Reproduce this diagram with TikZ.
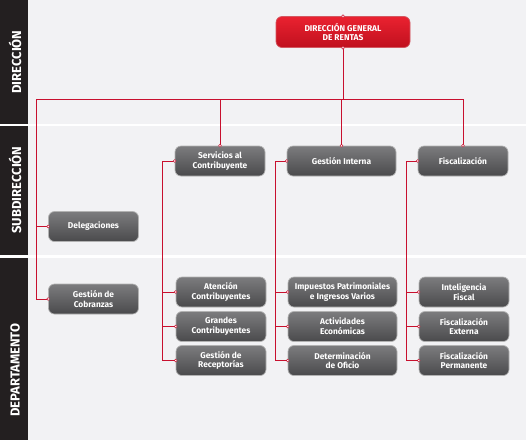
\documentclass[tikz,border=0pt]{standalone}
\usepackage{fontspec}
\setmainfont{Fira Sans}
\newfontfamily\orgfont{Fira Sans}
\definecolor{bandcol}{HTML}{231F20}
\definecolor{bgcol}{HTML}{F2F2F4}
\definecolor{linkred}{HTML}{C8102E}
\definecolor{headtop}{HTML}{EA2230}
\definecolor{headbot}{HTML}{C0101E}
\definecolor{unittop}{HTML}{7C7C7E}
\definecolor{unitbot}{HTML}{4A4A4C}
\begin{document}
\begin{tikzpicture}[x=1pt, y=-1pt,
    unit/.style={draw=black!30, line width=0.7pt, rounded corners=6pt,
        top color=unittop, bottom color=unitbot, text=white,
        font=\orgfont\bfseries\fontsize{8.4}{9.8}\selectfont, align=center,
        minimum width=90pt, minimum height=30pt, inner sep=1pt},
    wide/.style={unit, minimum width=109pt},
    head/.style={unit, draw=headbot!70, top color=headtop, bottom color=headbot,
        minimum width=134pt, minimum height=31pt},
    link/.style={draw=linkred, line width=0.8pt},
    dot/.style={fill=white, draw=linkred, line width=0.4pt},
    bandtext/.style={text=white, rotate=90, font=\orgfont\bfseries\fontsize{13}{15}\selectfont}
]
    % background and level band
    \fill [bgcol] (0,0) rectangle (526,440);
    \fill [bandcol] (0,0) rectangle (28,440);
    \fill [white] (0,123.8) rectangle (526,126.4);
    \fill [white] (0,255.4) rectangle (526,258);
    \node [bandtext] (lvl1) at (15,62) {DIRECCIÓN};
    \node [bandtext] (lvl2) at (15,190) {SUBDIRECCIÓN};
    \node [bandtext] (lvl3) at (15,370) {DEPARTAMENTO};

    % Direccion
    \node [head] (dgr) at (343,32) {DIRECCIÓN GENERAL\\DE RENTAS};

    % Subdirecciones
    \node [unit] (serv) at (220,161) {Servicios al\\Contribuyente};
    \node [wide] (gint) at (341.5,161) {Gestión Interna};
    \node [unit] (fisc) at (463,161) {Fiscalización};
    \node [unit] (deleg) at (93.5,226.5) {Delegaciones};

    % Departamentos
    \node [unit] (cobr) at (93.5,299) {Gestión de\\Cobranzas};
    \node [unit] (aten) at (221,292) {Atención\\Contribuyentes};
    \node [unit] (gran) at (221,326.5) {Grandes\\Contribuyentes};
    \node [unit] (rece) at (221,360.5) {Gestión de\\Receptorías};
    \node [wide] (impu) at (342.5,292) {Impuestos Patrimoniales\\e Ingresos Varios};
    \node [wide] (acti) at (342.5,326.5) {Actividades\\Económicas};
    \node [wide] (dete) at (342.5,360.5) {Determinación\\de Oficio};
    \node [unit] (inte) at (464,292) {Inteligencia\\Fiscal};
    \node [unit] (fext) at (464,326.5) {Fiscalización\\Externa};
    \node [unit] (fper) at (464,360.5) {Fiscalización\\Permanente};

    % Relations
    \coordinate (busL) at (36,99);
    \coordinate (busR) at (463,99);
    \draw [link] (dgr.south) -- (dgr.south |- busL);
    \draw [link] (busL) -- (busR);
    \draw [link] (serv.north) -- (serv.north |- busL);
    \draw [link] (gint.north) -- (gint.north |- busL);
    \draw [link] (busR) -- (fisc.north);
    \draw [link] (busL) |- (deleg.west);
    \draw [link] (busL) |- (cobr.west);
    \draw [link] (serv.west) -- ++(-12,0) coordinate (c1) |- (rece.west);
    \draw [link] (gint.west) -- ++(-11,0) coordinate (c2) |- (dete.west);
    \draw [link] (fisc.west) -- ++(-11,0) coordinate (c3) |- (fper.west);
    \foreach \n in {aten,gran} \draw [link] (c1 |- \n.west) -- (\n.west);
    \foreach \n in {impu,acti} \draw [link] (c2 |- \n.west) -- (\n.west);
    \foreach \n in {inte,fext} \draw [link] (c3 |- \n.west) -- (\n.west);

    % connection dots
    \foreach \n in {deleg,cobr,serv,gint,fisc,aten,gran,rece,impu,acti,dete,inte,fext,fper}
        \filldraw [dot] (\n.west) circle (1.4pt);
    \foreach \n in {serv,gint,fisc}
        \filldraw [dot] (\n.north) circle (1.4pt);
    \filldraw [dot] (dgr.south) circle (1.4pt);
    \filldraw [dot] (dgr.north) circle (1.4pt);
\end{tikzpicture}
\end{document}
